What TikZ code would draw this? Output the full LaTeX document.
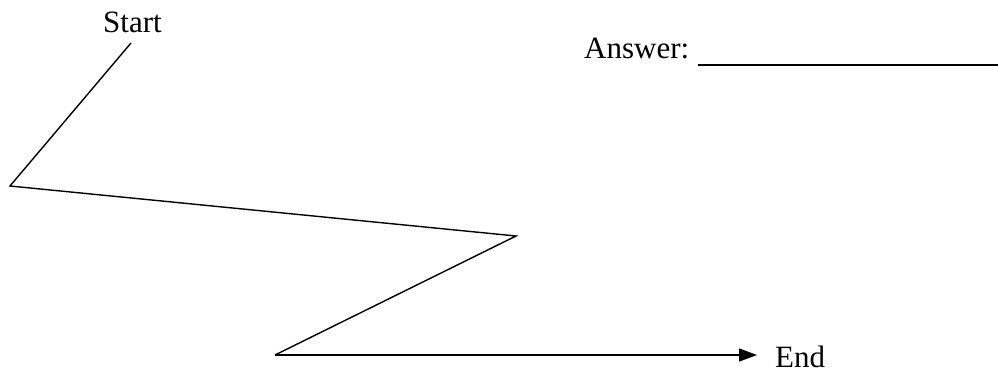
\documentclass[tikz,border=0pt]{standalone}
\usepackage{fontspec}
\setmainfont{Liberation Serif}
\usetikzlibrary{arrows.meta}
\begin{document}
\begin{tikzpicture}[x=1pt,y=-1pt,
  lbl/.style={inner sep=0pt,anchor=base west,font=\fontsize{31}{37}\selectfont},
  zig/.style={line width=1.4pt,line join=miter}]
\useasboundingbox (0,0) rectangle (998,373);
\node[lbl] (start) at (103,32) {Start};
\node[lbl] (answer) at (584,58) {Answer:};
\node[lbl] (end) at (775,367) {End};
\coordinate (p0) at (131,43);
\coordinate (p1) at (10,186);
\coordinate (p2) at (516,236);
\coordinate (p3) at (275,355);
\coordinate (p4) at (757,355);
\coordinate (u0) at (698,65);
\coordinate (u1) at (998,65);
\draw[zig] (p0) -- (p1) -- (p2) -- (p3);
\draw[line width=1.4pt,-{Triangle[length=18pt,width=13pt]}] (p3) -- (p4);
\draw[line width=1.3pt] (u0) -- (u1);
\end{tikzpicture}
\end{document}
